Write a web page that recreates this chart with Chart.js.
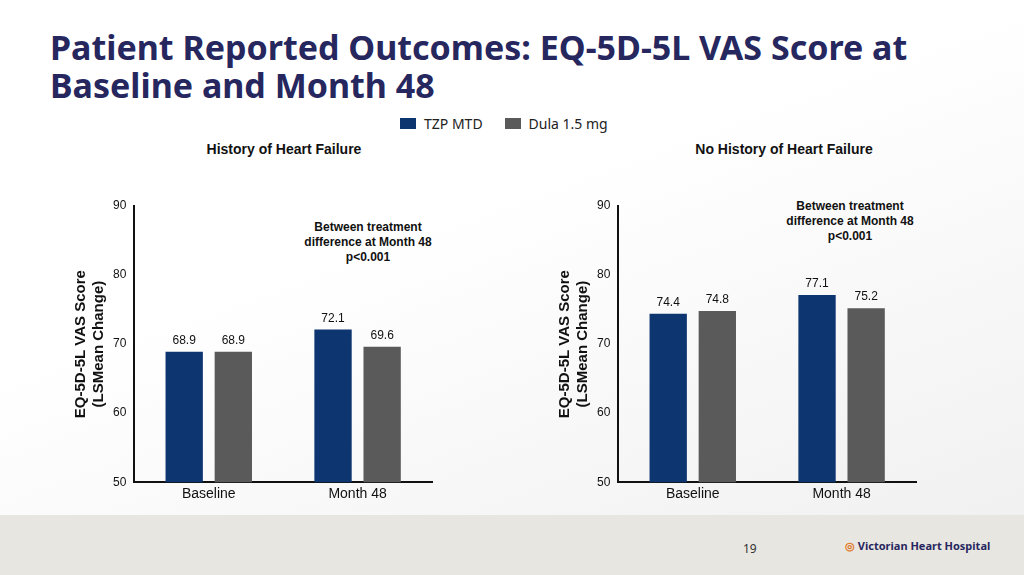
<!DOCTYPE html>
<html><head><meta charset="utf-8">
<script src="https://cdn.jsdelivr.net/npm/chart.js@4"></script>
<style>
body{margin:0;width:1024px;height:575px;overflow:hidden;font-family:"Noto Sans",sans-serif;background:linear-gradient(160deg,#ffffff 40%,#efefef 100%);position:relative}
h1{position:absolute;left:50px;top:28px;margin:0;font-size:34px;line-height:38px;color:#27275f;font-weight:700}
.legend{position:absolute;top:114px;left:400px;font-size:14px;color:#222;display:flex;gap:22px}
.legend span{display:inline-flex;align-items:center}
.legend i{display:inline-block;width:16px;height:11px;margin-right:8px}
.sub{position:absolute;top:141px;font:bold 14px "Liberation Sans",Arial;color:#111;text-align:center;width:300px}
.note{position:absolute;font:bold 12px "Liberation Sans",Arial;color:#111;text-align:center;width:160px;line-height:15px}
.footer{position:absolute;left:0;top:515px;width:1024px;height:60px;background:#e8e6e1}
.pg{position:absolute;left:743px;top:540px;font-size:12px;color:#333}
.logo{position:absolute;left:845px;top:538px;font-size:11px;font-weight:700;color:#27275f}
.wrap{position:absolute;top:190px;width:400px;height:317px}
</style></head><body>
<h1>Patient Reported Outcomes: EQ-5D-5L VAS Score at<br>Baseline and Month 48</h1>
<div class="legend"><span><i style="background:#0d3570"></i>TZP MTD</span><span><i style="background:#5a5a5a"></i>Dula 1.5 mg</span></div>
<div class="sub" style="left:134px">History of Heart Failure</div>
<div class="sub" style="left:634px">No History of Heart Failure</div>
<div class="note" style="left:288px;top:220px">Between treatment difference at Month 48<br>p&lt;0.001</div>
<div class="note" style="left:770px;top:199px">Between treatment difference at Month 48<br>p&lt;0.001</div>
<div class="wrap" style="left:70px"><canvas id="c1"></canvas></div>
<div class="wrap" style="left:554px"><canvas id="c2"></canvas></div>
<div class="footer"></div>
<div class="pg">19</div>
<div class="logo"><span style="color:#e07b2a">◎</span> Victorian Heart Hospital</div>
<script>
const categories = ['Baseline', 'Month 48'];
const hfTzp = [68.9, 72.1];
const hfDula = [68.9, 69.6];
const noHfTzp = [74.4, 77.1];
const noHfDula = [74.8, 75.2];
const yTicks = [50, 60, 70, 80, 90];

const labelPlugin = {
  id: 'labels',
  afterDatasetsDraw(chart) {
    const ctx = chart.ctx;
    ctx.font = '12px "Liberation Sans", Arial';
    ctx.fillStyle = '#111';
    ctx.textAlign = 'center';
    chart.data.datasets.forEach((ds, i) => {
      chart.getDatasetMeta(i).data.forEach((bar, j) => {
        ctx.fillText(ds.data[j].toFixed(1), bar.x, bar.y - 8);
      });
    });
  }
};

function makeChart(id, tzp, dula) {
  new Chart(document.getElementById(id), {
    type: 'bar',
    data: {
      labels: categories,
      datasets: [
        { label: 'TZP MTD', data: tzp, backgroundColor: '#0d3570', barPercentage: 0.76, categoryPercentage: 0.66 },
        { label: 'Dula 1.5 mg', data: dula, backgroundColor: '#5a5a5a', barPercentage: 0.76, categoryPercentage: 0.66 }
      ]
    },
    options: {
      responsive: true, maintainAspectRatio: false, animation: false,
      layout: { padding: { top: 16, right: 38 } },
      plugins: { legend: { display: false }, tooltip: { enabled: false } },
      scales: {
        x: {
          grid: { display: false, drawTicks: false },
          border: { color: '#111', width: 2 },
          ticks: { color: '#111', font: { size: 14, family: '"Liberation Sans", Arial' }, padding: 4 }
        },
        y: {
          min: 50, max: 90,
          afterBuildTicks: s => { s.ticks = yTicks.map(v => ({ value: v })); },
          grid: { display: false, drawTicks: true, tickLength: 5, tickColor: '#111' },
          border: { color: '#111', width: 2 },
          ticks: { color: '#111', font: { size: 12, family: '"Liberation Sans", Arial' } },
          title: { display: true, text: ['EQ-5D-5L VAS Score', '(LSMean Change)'], color: '#111',
                   font: { size: 15, weight: 'bold', family: '"Liberation Sans", Arial' }, padding: 2 }
        }
      }
    },
    plugins: [labelPlugin]
  });
}
makeChart('c1', hfTzp, hfDula);
makeChart('c2', noHfTzp, noHfDula);
</script>
</body></html>
